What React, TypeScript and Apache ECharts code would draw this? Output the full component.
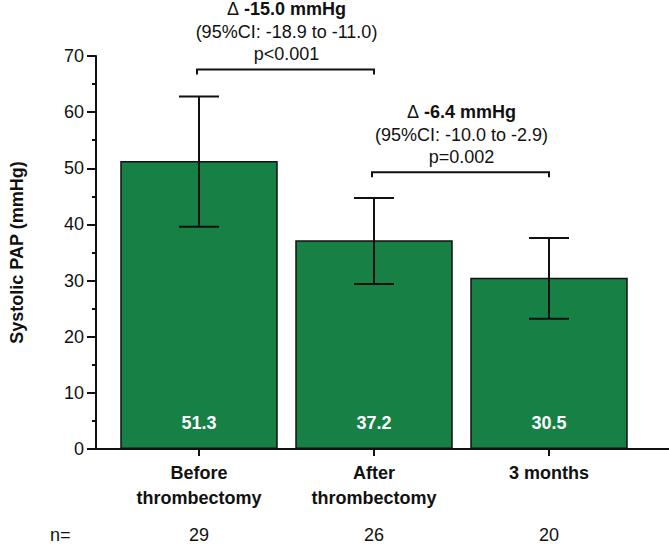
import React, { useEffect, useRef } from 'react';
import * as echarts from 'echarts';

const categories = ['Before\nthrombectomy', 'After\nthrombectomy', '3 months'];
const means = [51.3, 37.2, 30.5];
const ciLow = [39.6, 29.4, 23.2];
const ciHigh = [62.8, 44.7, 37.6];
const nCounts = [29, 26, 20];

// paired comparisons shown as brackets above the bars
const compFrom = [0, 1];
const compTo = [1, 2];
const compLevel = [67.6, 49.3];
const compDelta = ['-15.0 mmHg', '-6.4 mmHg'];
const compCI = ['(95%CI: -18.9 to -11.0)', '(95%CI: -10.0 to -2.9)'];
const compP = ['p<0.001', 'p=0.002'];

const FONT = "'Liberation Sans', Arial, sans-serif";
const GREEN = '#168045';
const INK = '#111';

const App: React.FC = () => {
  const chartRef = useRef<HTMLDivElement>(null);

  useEffect(() => {
    document.body.style.margin = '0';
    if (!chartRef.current) return;
    const chart = echarts.init(chartRef.current, undefined, { renderer: 'svg' });

    const top = 56;
    const bottom = 95;

    const option = {
      animation: false,
      textStyle: { fontFamily: FONT },
      grid: [
        { left: 79, right: 0, top, bottom },
        { left: 111.5, right: 32.5, top, bottom },
      ],
      xAxis: [
        {
          // plain baseline spanning the full width
          type: 'value',
          gridIndex: 0,
          min: 0,
          max: 1,
          axisLine: { show: true, lineStyle: { color: INK, width: 2 } },
          axisTick: { show: false },
          axisLabel: { show: false },
          splitLine: { show: false },
        },
        {
          type: 'category',
          gridIndex: 1,
          data: categories,
          axisLine: { show: false },
          axisTick: {
            show: true,
            alignWithLabel: true,
            length: 7,
            lineStyle: { color: INK, width: 2 },
          },
          axisLabel: {
            color: INK,
            fontSize: 18,
            fontWeight: 'bold',
            fontFamily: FONT,
            lineHeight: 25,
            margin: 11.5,
          },
        },
        {
          type: 'category',
          gridIndex: 1,
          position: 'bottom',
          data: nCounts.map(String),
          axisLine: { show: false },
          axisTick: { show: false },
          axisLabel: {
            color: INK,
            fontSize: 18,
            fontFamily: FONT,
            lineHeight: 18,
            margin: 77,
          },
        },
      ],
      yAxis: [
        {
          type: 'value',
          gridIndex: 0,
          min: 0,
          max: 70,
          interval: 10,
          name: 'Systolic PAP (mmHg)',
          nameLocation: 'middle',
          nameGap: 70,
          nameTextStyle: { color: INK, fontSize: 18, fontWeight: 'bold', fontFamily: FONT },
          axisLine: { show: true, lineStyle: { color: INK, width: 2 } },
          axisTick: { show: true, length: 9, lineStyle: { color: INK, width: 2 } },
          minorTick: { show: true, splitNumber: 2, length: 4, lineStyle: { color: INK, width: 2 } },
          axisLabel: { color: INK, fontSize: 18, fontFamily: FONT, margin: 12 },
          splitLine: { show: false },
        },
        {
          type: 'value',
          gridIndex: 1,
          min: 0,
          max: 70,
          show: false,
        },
      ],
      series: [
        {
          type: 'bar',
          xAxisIndex: 1,
          yAxisIndex: 1,
          data: means,
          barWidth: '90%',
          itemStyle: { color: GREEN, borderColor: INK, borderWidth: 1.5 },
          label: {
            show: true,
            position: 'insideBottom',
            distance: 17,
            color: '#fff',
            fontSize: 18,
            fontWeight: 'bold',
            fontFamily: FONT,
            formatter: (p: any) => p.value.toFixed(1),
          },
        },
        {
          type: 'custom',
          xAxisIndex: 1,
          yAxisIndex: 1,
          z: 5,
          data: categories.map((_, i) => [i, ciLow[i], ciHigh[i]]),
          renderItem: (_params: any, api: any) => {
            const i = api.value(0);
            const lo = api.coord([i, api.value(1)]);
            const hi = api.coord([i, api.value(2)]);
            const hw = 20;
            const st = { stroke: INK, lineWidth: 2 };
            return {
              type: 'group',
              children: [
                { type: 'line', shape: { x1: hi[0], y1: hi[1], x2: lo[0], y2: lo[1] }, style: st },
                { type: 'line', shape: { x1: hi[0] - hw, y1: hi[1], x2: hi[0] + hw, y2: hi[1] }, style: st },
                { type: 'line', shape: { x1: lo[0] - hw, y1: lo[1], x2: lo[0] + hw, y2: lo[1] }, style: st },
              ],
            };
          },
        },
        {
          type: 'custom',
          xAxisIndex: 1,
          yAxisIndex: 1,
          clip: false,
          z: 6,
          data: compFrom.map((f, k) => [f, compTo[k], compLevel[k], k]),
          renderItem: (_params: any, api: any) => {
            const k = api.value(3);
            const a = api.coord([api.value(0), api.value(2)]);
            const b = api.coord([api.value(1), api.value(2)]);
            const cx = (a[0] + b[0]) / 2;
            const y = a[1];
            const base = { fill: INK, fontFamily: FONT, fontSize: 18, align: 'center', verticalAlign: 'middle' };
            return {
              type: 'group',
              children: [
                {
                  type: 'polyline',
                  shape: { points: [[a[0] - 2, y + 5], [a[0] - 2, y], [b[0], y], [b[0], y + 5]] },
                  style: { stroke: INK, lineWidth: 2, fill: null },
                },
                {
                  type: 'text',
                  x: cx,
                  y: y - 60.5,
                  style: {
                    ...base,
                    lineHeight: 16,
                    text: '{d|Δ} {b|' + compDelta[k] + '}',
                    rich: {
                      d: { fontSize: 18, fontFamily: FONT, fill: INK, lineHeight: 16 },
                      b: { fontSize: 18, fontWeight: 'bold', fontFamily: FONT, fill: INK, lineHeight: 16 },
                    },
                  },
                },
                { type: 'text', x: cx, y: y - 37, style: { ...base, text: compCI[k] } },
                { type: 'text', x: cx, y: y - 15.5, style: { ...base, text: compP[k] } },
              ],
            };
          },
        },
      ],
      graphic: [
        {
          type: 'text',
          x: 50,
          y: 535,
          style: { text: 'n=', fill: INK, fontSize: 18, fontFamily: FONT, verticalAlign: 'middle', lineHeight: 16 },
        },
      ],
    };

    chart.setOption(option as any);

    const handleResize = () => chart.resize();
    window.addEventListener('resize', handleResize);
    return () => {
      window.removeEventListener('resize', handleResize);
      chart.dispose();
    };
  }, []);

  return <div ref={chartRef} style={{ width: 669, height: 544 }} />;
};

export default App;
